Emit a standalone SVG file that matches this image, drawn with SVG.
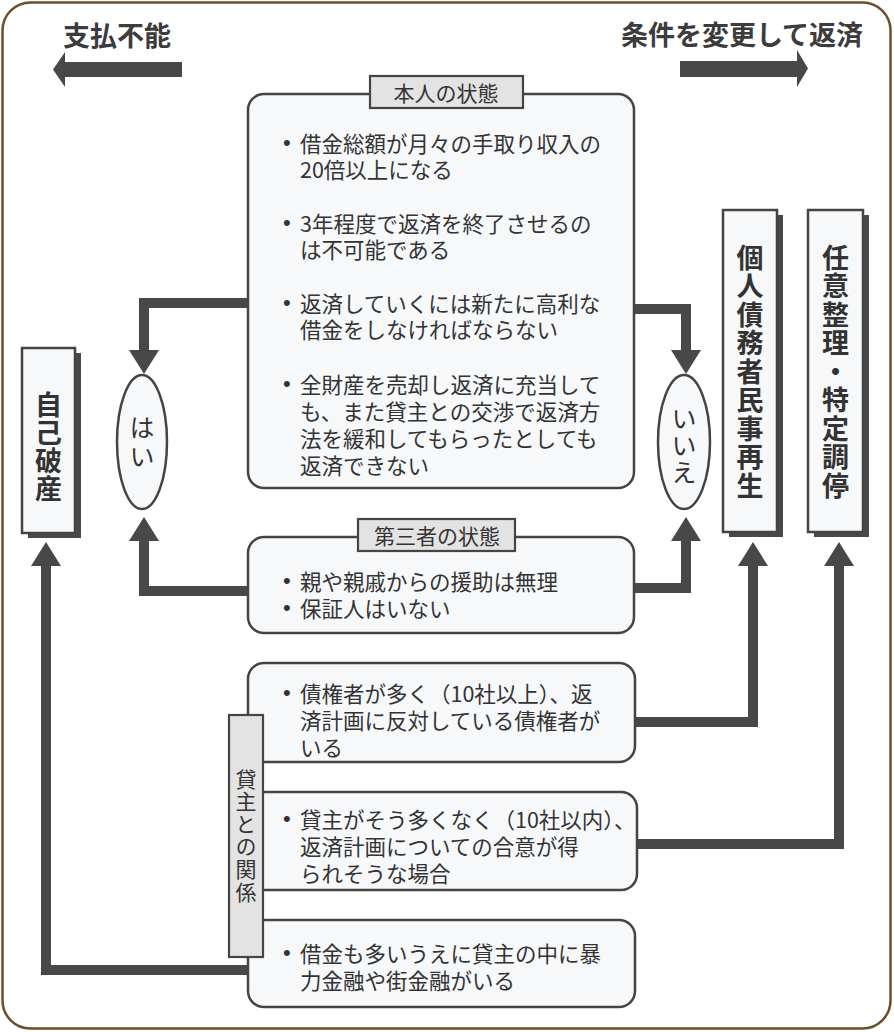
<svg xmlns="http://www.w3.org/2000/svg" width="894" height="1032" viewBox="0 0 894 1032">
<defs>
<style>
.t{font-family:"Noto Sans CJK JP","Noto Sans CJK SC",sans-serif;fill:#333;}
.body{font-size:21.5px;}
.lbl{font-size:21px;}
.hd{font-size:27px;font-weight:700;fill:#3c3c3c;}
.side{font-size:27px;font-weight:700;fill:#333;}
.yn{font-size:25px;}
.vt{writing-mode:vertical-rl;text-orientation:upright;}
.box{fill:#f6f8fa;stroke:#454443;stroke-width:2.5;}
.tag{fill:#e3e3e3;stroke:#454443;stroke-width:2.2;}
.shadow{fill:#4a4846;}
.conn{fill:none;stroke:#4a4846;stroke-width:10;stroke-linejoin:miter;}
.bul{font-family:"Liberation Sans",sans-serif;font-size:22px;}
</style>
<marker id="ah" viewBox="0 0 24 30" refX="0" refY="15" markerWidth="24" markerHeight="30" markerUnits="userSpaceOnUse" orient="auto">
<path d="M0,0 L24,15 L0,30 z" fill="#4a4846"/>
</marker>
</defs>
<rect x="0" y="0" width="894" height="1032" fill="#fff"/>
<rect x="2.5" y="2.5" width="888" height="1026" rx="28" fill="#fff" stroke="#6b4f2a" stroke-width="2.5"/>

<g id="header-left">
<text class="t hd" x="117" y="34" text-anchor="middle" dominant-baseline="central">支払不能</text>
<polygon points="182,62 65,62 65,52 53,69.5 65,87 65,77 182,77" fill="#4a4846"/>
</g>
<g id="header-right">
<text class="t hd" x="742" y="33" text-anchor="middle" dominant-baseline="central">条件を変更して返済</text>
<polygon points="680,61 797,61 797,50 808,68.5 797,87 797,77 680,77" fill="#4a4846"/>
</g>

<g id="connectors">
<path class="conn" d="M250,303 H144 V350" marker-end="url(#ah)"/>
<path class="conn" d="M250,591 H144 V541" marker-end="url(#ah)"/>
<path class="conn" d="M632,309 H686 V350" marker-end="url(#ah)"/>
<path class="conn" d="M632,588 H686 V541" marker-end="url(#ah)"/>
<path class="conn" d="M250,970 H46 V566" marker-end="url(#ah)"/>
<path class="conn" d="M633,722 H753 V566" marker-end="url(#ah)"/>
<path class="conn" d="M635,844 H839 V566" marker-end="url(#ah)"/>
</g>

<g id="self-condition">
<rect class="box" x="248" y="94" width="386" height="394" rx="16"/>
<rect class="tag" x="370" y="76" width="153" height="32"/>
<text class="t lbl" x="446" y="92" text-anchor="middle" dominant-baseline="central">本人の状態</text>
<g class="t body" dominant-baseline="central">
<text y="142"><tspan class="bul" x="283">•</tspan><tspan x="300">借金総額が月々の手取り収入の</tspan></text>
<text x="300" y="168">20倍以上になる</text>
<text y="222"><tspan class="bul" x="283">•</tspan><tspan x="300">3年程度で返済を終了させるの</tspan></text>
<text x="300" y="248">は不可能である</text>
<text y="302"><tspan class="bul" x="283">•</tspan><tspan x="300">返済していくには新たに高利な</tspan></text>
<text x="300" y="328">借金をしなければならない</text>
<text y="383"><tspan class="bul" x="283">•</tspan><tspan x="300">全財産を売却し返済に充当して</tspan></text>
<text x="300" y="410">も、また貸主との交渉で返済方</text>
<text x="300" y="437">法を緩和してもらったとしても</text>
<text x="300" y="464">返済できない</text>
</g>
</g>

<g id="third-party">
<rect class="box" x="248" y="537" width="386" height="96" rx="16"/>
<rect class="tag" x="358" y="519" width="157" height="32"/>
<text class="t lbl" x="437" y="535" text-anchor="middle" dominant-baseline="central">第三者の状態</text>
<g class="t body" dominant-baseline="central">
<text y="580"><tspan class="bul" x="283">•</tspan><tspan x="300">親や親戚からの援助は無理</tspan></text>
<text y="607"><tspan class="bul" x="283">•</tspan><tspan x="300">保証人はいない</tspan></text>
</g>
</g>

<g id="creditors-many">
<rect class="box" x="248" y="663" width="387" height="99" rx="16"/>
<g class="t body" dominant-baseline="central">
<text y="692"><tspan class="bul" x="283">•</tspan><tspan x="300">債権者が多く（10社以上）、返</tspan></text>
<text x="300" y="719">済計画に反対している債権者が</text>
<text x="300" y="746">いる</text>
</g>
</g>

<g id="creditors-few">
<rect class="box" x="248" y="792" width="389" height="98" rx="16"/>
<g class="t body" dominant-baseline="central">
<text y="818"><tspan class="bul" x="283">•</tspan><tspan x="300">貸主がそう多くなく（10社以内）、</tspan></text>
<text x="300" y="845">返済計画についての合意が得</text>
<text x="300" y="872">られそうな場合</text>
</g>
</g>

<g id="loan-sharks">
<rect class="box" x="248" y="920" width="387" height="87" rx="16"/>
<g class="t body" dominant-baseline="central">
<text y="952"><tspan class="bul" x="283">•</tspan><tspan x="300">借金も多いうえに貸主の中に暴</tspan></text>
<text x="300" y="979">力金融や街金融がいる</text>
</g>
</g>

<g id="lender-relation">
<rect class="tag" x="229" y="715" width="34" height="242"/>
<text class="t lbl vt" x="246" y="836" text-anchor="middle" letter-spacing="1.6">貸主との関係</text>
</g>

<g id="yes">
<ellipse class="box" cx="142" cy="442" rx="25" ry="67"/>
<text class="t yn vt" x="142" y="444" text-anchor="middle" letter-spacing="4">はい</text>
</g>

<g id="no">
<ellipse class="box" cx="684" cy="442" rx="26" ry="67"/>
<text class="t yn vt" x="684" y="446" text-anchor="middle" letter-spacing="2">いいえ</text>
</g>

<g id="bankruptcy">
<rect class="shadow" x="28" y="353" width="53" height="185"/>
<rect class="box" x="22" y="348" width="53" height="185"/>
<text class="t side vt" x="48.5" y="447" text-anchor="middle" letter-spacing="1">自己破産</text>
</g>

<g id="civil-rehabilitation">
<rect class="shadow" x="729" y="215" width="54" height="322"/>
<rect class="box" x="723" y="210" width="54" height="322"/>
<text class="t side vt" x="750" y="372" text-anchor="middle" letter-spacing="1.5">個人債務者民事再生</text>
</g>

<g id="voluntary-settlement">
<rect class="shadow" x="814" y="215" width="55" height="322"/>
<rect class="box" x="808" y="210" width="55" height="322"/>
<text class="t side vt" x="835.5" y="372" text-anchor="middle" letter-spacing="1.5">任意整理・特定調停</text>
</g>
</svg>
